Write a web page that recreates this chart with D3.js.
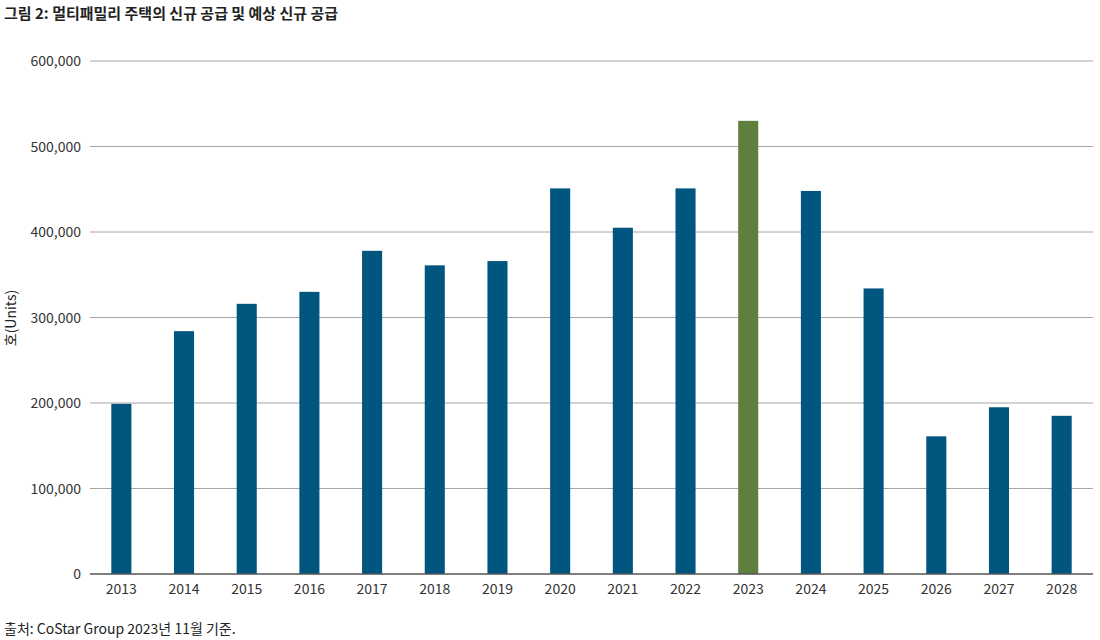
<!DOCTYPE html>
<html><head><meta charset="utf-8">
<script src="https://cdn.jsdelivr.net/npm/d3@7"></script>
<style>body{margin:0;background:#fff;font-family:"Noto Sans CJK KR","Noto Sans",sans-serif;}</style>
</head><body><svg id="c" width="1100" height="640"></svg>
<script>
const years=["2013","2014","2015","2016","2017","2018","2019","2020","2021","2022","2023","2024","2025","2026","2027","2028"];
const units=[199000,284000,316000,330000,378000,361000,366000,451000,405000,451000,530000,448000,334000,161000,195000,185000];
const highlightYear="2023";
const yTicks=[0,100000,200000,300000,400000,500000,600000];
const svg=d3.select("#c");
const m={l:90,r:1093,t:61,b:574};
const x=d3.scaleBand().domain(years).range([m.l,m.r]).paddingInner(0.68).paddingOuter(0.34);
const y=d3.scaleLinear().domain([0,600000]).range([m.b,m.t]);
const fmt=d3.format(",");
svg.append("g").selectAll("line").data(yTicks.slice(1)).join("line")
 .attr("x1",m.l).attr("x2",m.r).attr("y1",d=>y(d)).attr("y2",d=>y(d)).attr("stroke","#a6a6a6").attr("stroke-width",1);
svg.append("g").selectAll("text").data(yTicks).join("text")
 .attr("x",m.l-9).attr("y",d=>y(d)+5).attr("text-anchor","end").attr("font-size",14).attr("fill","#333").text(d=>fmt(d));
svg.append("g").selectAll("rect").data(years).join("rect")
 .attr("x",d=>x(d)).attr("width",x.bandwidth()).attr("y",(d,i)=>y(units[i])).attr("height",(d,i)=>y(0)-y(units[i]))
 .attr("fill",d=>d===highlightYear?"#5f7f3c":"#00567f");
svg.append("line").attr("x1",m.l).attr("x2",m.r).attr("y1",m.b).attr("y2",m.b).attr("stroke","#555").attr("stroke-width",1.5);
svg.append("g").attr("transform",`translate(0,${m.b})`).call(d3.axisBottom(x).tickSize(0).tickPadding(10))
 .call(g=>{g.select(".domain").remove();g.selectAll("text").attr("font-size",14).attr("fill","#333").attr("font-family","'Noto Sans CJK KR',sans-serif");});
svg.append("text").attr("transform","translate(16,318) rotate(-90)").attr("text-anchor","middle").attr("font-size",14).attr("fill","#222").text("호(Units)");
svg.append("text").attr("x",4).attr("y",19).attr("font-size",15).attr("font-weight","bold").attr("fill","#222").text("그림 2: 멀티패밀리 주택의 신규 공급 및 예상 신규 공급");
svg.append("text").attr("x",4).attr("y",634).attr("font-size",14).attr("fill","#222").text("출처: CoStar Group 2023년 11월 기준.");
</script></body></html>
